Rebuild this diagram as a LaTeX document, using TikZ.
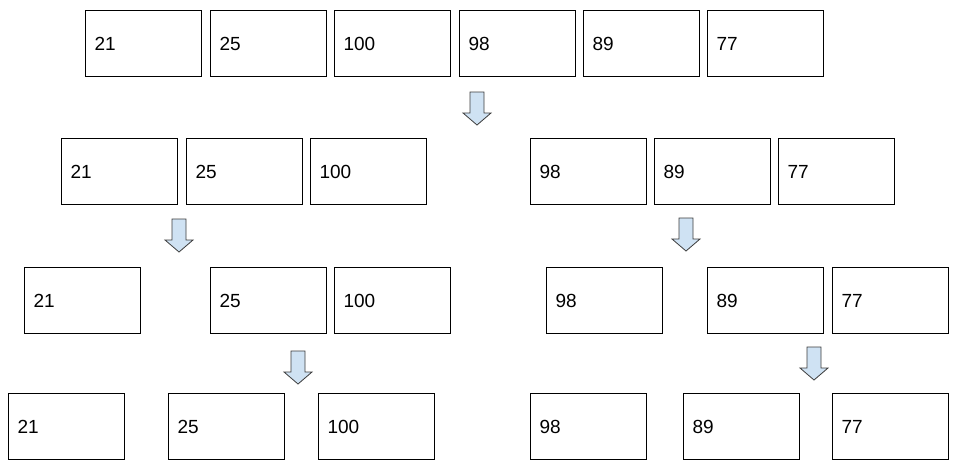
\documentclass[tikz,border=0pt]{standalone}
\usepackage{fontspec}
\setmainfont{Liberation Sans}
\usepackage{tikz}
\usetikzlibrary{positioning}
\definecolor{arrowfill}{HTML}{CFE2F3}
\definecolor{arrowline}{HTML}{3C3C3C}
\tikzset{cell/.style = {draw, line width = 1pt, anchor = north west,
                        minimum height = 66pt, text width = 98pt,
                        inner xsep = 9pt, align = left, font = \fontsize{19}{21}\selectfont}}
\tikzset{blockarrow/.style = {draw = arrowline, fill = arrowfill, line width = 0.8pt, line join = miter}}
\newcommand{\splitarrow}[2]{%
  \draw [blockarrow] (#1 - 7, #2) -- (#1 + 7, #2) -- (#1 + 7, #2 + 21)
        -- (#1 + 14, #2 + 21) -- (#1, #2 + 33) -- (#1 - 14, #2 + 21)
        -- (#1 - 7, #2 + 21) -- cycle;}

\begin{document}
\begin{tikzpicture}[x = 1pt, y = -1pt]
    \useasboundingbox (0, 0) rectangle (956, 475);
    % whole list
    \node [cell] (top21) at (85, 10) {21};
    \node [cell] (top25) at (210, 10) {25};
    \node [cell] (top100) at (334, 10) {100};
    \node [cell] (top98) at (459, 10) {98};
    \node [cell] (top89) at (583, 10) {89};
    \node [cell] (top77) at (707, 10) {77};
    \splitarrow{477}{92}
    % halves
    \node [cell] (half21) at (61, 138) {21};
    \node [cell] (half25) at (186, 138) {25};
    \node [cell] (half100) at (310, 138) {100};
    \node [cell] (half98) at (530, 138) {98};
    \node [cell] (half89) at (654, 138) {89};
    \node [cell] (half77) at (778, 138) {77};
    \splitarrow{179}{219}
    \splitarrow{686}{218}
    % quarters
    \node [cell] (quart21) at (24, 267) {21};
    \node [cell] (quart25) at (210, 267) {25};
    \node [cell] (quart100) at (334, 267) {100};
    \node [cell] (quart98) at (546, 267) {98};
    \node [cell] (quart89) at (707, 267) {89};
    \node [cell] (quart77) at (832, 267) {77};
    \splitarrow{298}{351}
    \splitarrow{814}{347}
    % singles
    \node [cell] (single21) at (8, 393) {21};
    \node [cell] (single25) at (168, 393) {25};
    \node [cell] (single100) at (318, 393) {100};
    \node [cell] (single98) at (530, 393) {98};
    \node [cell] (single89) at (683, 393) {89};
    \node [cell] (single77) at (832, 393) {77};
  \end{tikzpicture}
\end{document}
